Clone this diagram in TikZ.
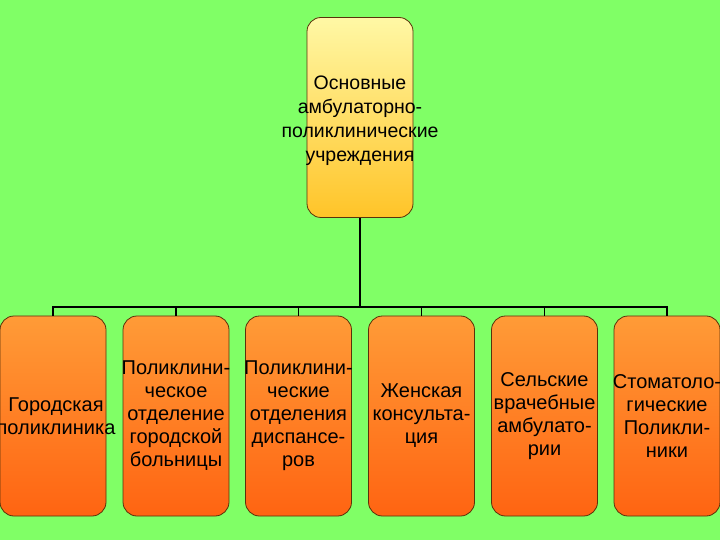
\documentclass[tikz,border=0pt]{standalone}
\usepackage{fontspec}
\setmainfont{Liberation Sans}
\usepackage{xcolor}
\usepackage{tikz}
\usetikzlibrary{positioning, calc}

\definecolor{fondo}{RGB}{128,255,102}
\definecolor{gialloA}{RGB}{255,248,165}
\definecolor{gialloB}{RGB}{255,196,40}
\definecolor{aranA}{RGB}{255,155,55}
\definecolor{aranB}{RGB}{255,100,18}
\definecolor{bordo}{RGB}{90,50,10}

\tikzset{
    topbox/.style={draw=bordo, line width=0.8pt, rounded corners=14bp,
        top color=gialloA, bottom color=gialloB,
        minimum width=106bp, minimum height=200bp, inner sep=0pt},
    subbox/.style={draw=bordo, line width=0.8pt, rounded corners=14bp,
        top color=aranA, bottom color=aranB,
        minimum width=106bp, minimum height=200bp, inner sep=0pt},
    boxtext/.style={align=center, inner sep=0pt,
        font=\fontsize{20bp}{23bp}\selectfont},
    bar/.style={line width=1.8pt, black}
}

\begin{document}
\begin{tikzpicture}[x=1bp, y=-1bp]
    \fill[fondo] (0,0) rectangle (720,540);
    \useasboundingbox (0,0) rectangle (720,540);

    % Blocco principale
    \node[topbox] (main) at (360,117.5) {};
    \node[boxtext, font=\fontsize{19.5bp}{24bp}\selectfont] (maintext) at ([yshift=-3bp]main.center)
        {Основные\\амбулаторно-\\поликлинические\\учреждения};

    % Blocchi inferiori
    \node[subbox] (b1) at (53,416) {};
    \node[subbox] (b2) at (176,416) {};
    \node[subbox] (b3) at (298.5,416) {};
    \node[subbox] (b4) at (421.5,416) {};
    \node[subbox] (b5) at (544.5,416) {};
    \node[subbox] (b6) at (667,416) {};

    \node[boxtext] (t1) at ([xshift=3bp]b1.center) {Городская\\поликлиника};
    \node[boxtext] (t2) at (b2.center) {Поликлини-\\ческое\\отделение\\городской\\больницы};
    \node[boxtext] (t3) at (b3.center) {Поликлини-\\ческие\\отделения\\диспансе-\\ров};
    \node[boxtext] (t4) at (b4.center) {Женская\\консульта-\\ция};
    \node[boxtext] (t5) at (b5.center) {Сельские\\врачебные\\амбулато-\\рии};
    \node[boxtext] (t6) at (b6.center) {Стоматоло-\\гические\\Поликли-\\ники};

    % Collegamenti
    \coordinate (bus) at (0,307);
    \draw[bar] (main.south) -- (main.south |- bus);
    \draw[bar] (b1.north) |- (b6.north |- bus) -- (b6.north);
    \foreach \i in {2,...,5}
        \draw[bar] (b\i.north) -- (b\i.north |- bus);
\end{tikzpicture}
\end{document}
